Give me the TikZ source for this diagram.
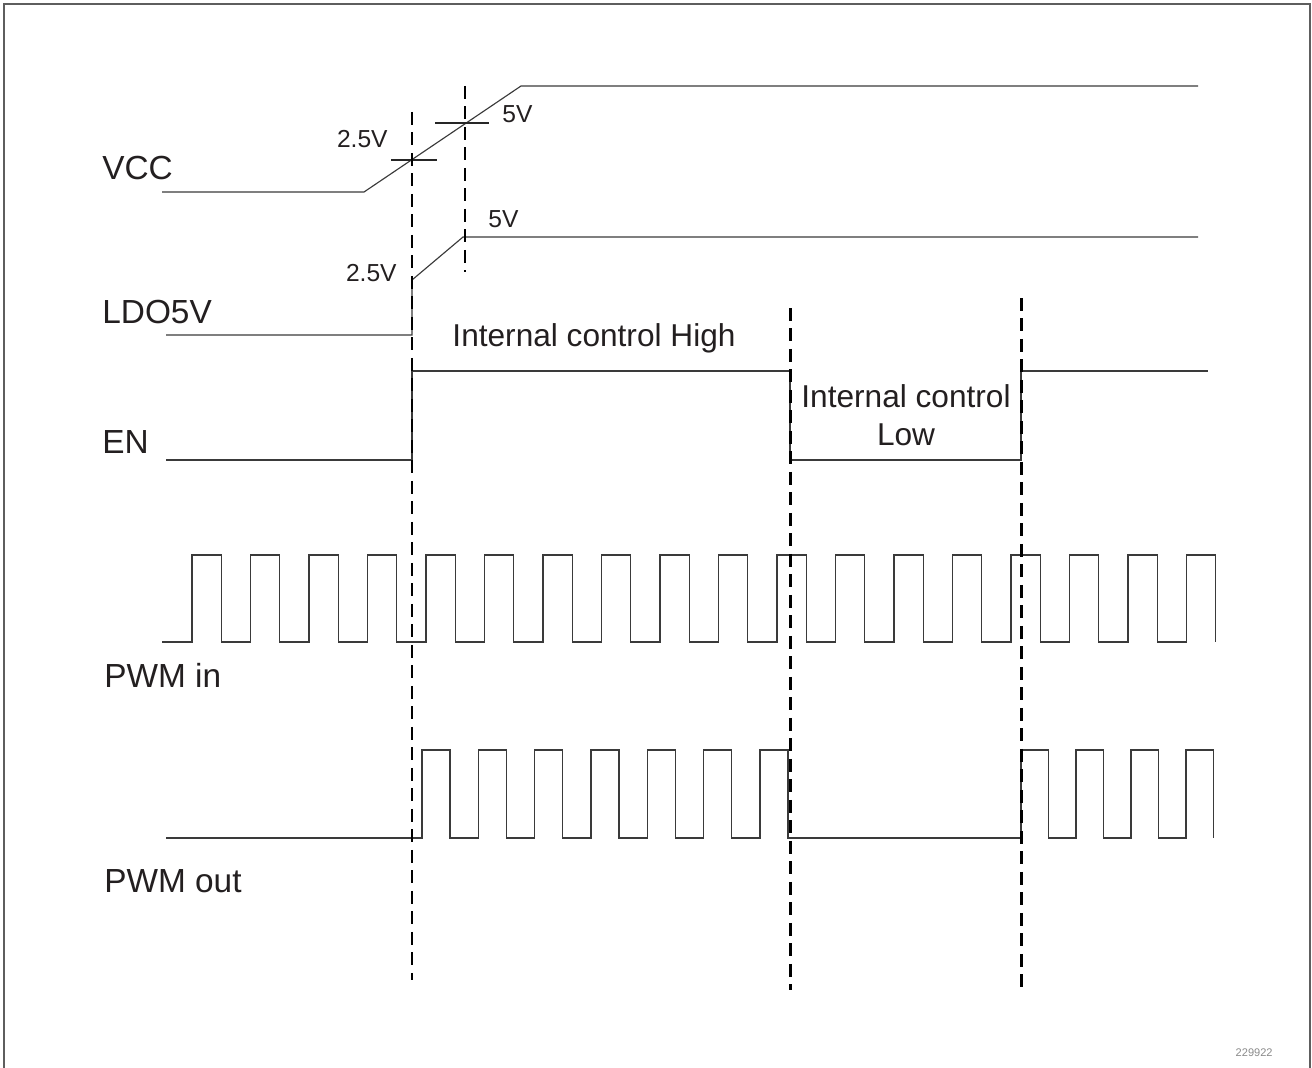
\documentclass[tikz,border=0pt]{standalone}
\usepackage{fontspec}
\setmainfont{Liberation Sans}
\usepackage{tikz}
\usetikzlibrary{positioning,calc}
\usepackage{xcolor}
\definecolor{fframe}{HTML}{5E5E5E}
\definecolor{fwave}{HTML}{3A3A3A}
\definecolor{ftext}{HTML}{231F20}
\definecolor{fnum}{HTML}{8A8A8A}
\tikzset{
  wave/.style     = {draw=fwave, line width=0.65pt, line join=miter},
  marker/.style   = {draw=black, line width=1.7pt, dash pattern=on 0.26cm off 0.15cm},
  tickmark/.style = {draw=black!85, line width=1.1pt},
  siglabel/.style = {text=ftext, inner sep=0pt, anchor=base west,
                     font=\fontsize{19}{23}\selectfont},
  note/.style     = {text=ftext, inner sep=0pt, anchor=base, align=center,
                     font=\fontsize{18}{21.6}\selectfont},
  volt/.style     = {text=ftext, inner sep=0pt,
                     font=\fontsize{14}{17}\selectfont},
}

\begin{document}
\begin{tikzpicture}[x=0.02cm,y=-0.02cm]
\useasboundingbox (0,0) rectangle (1312,1068);
% ---- frame ----
\draw[fframe,line width=1.1pt] (4,1068) -- (4,4) -- (1310,4) -- (1310,1068);
% ---- signal names ----
\node[siglabel] (lVCC) at (102,179) {VCC};
\node[siglabel] (lLDO) at (102,323) {LDO5V};
\node[siglabel] (lEN) at (102,453) {EN};
\node[siglabel] (lPWMin) at (104,687) {PWM in};
\node[siglabel] (lPWMout) at (104,892) {PWM out};
% ---- VCC ramp ----
\draw[wave] (162,192) -- (364,192) -- (521,86) -- (1198,86);
\draw[tickmark] (391,160) -- (437,160);
\draw[tickmark] (435,123) -- (489,123);
\node[volt,anchor=base east] (v25a) at (388,148) {2.5V};
\node[volt,anchor=base west] (v5a) at (502,123) {5V};
% ---- LDO5V ----
\draw[wave] (166,335) -- (412,335) -- (412,280) -- (463,237) -- (1198,237);
\node[volt,anchor=base east] (v25b) at (397,281) {2.5V};
\node[volt,anchor=base west] (v5b) at (488,227) {5V};
% ---- EN ----
\draw[wave] (166,460) -- (412,460) -- (412,371) -- (790,371) -- (790,460)
  -- (1021,460) -- (1021,371) -- (1208,371);
\node[note] (enHigh) at (594,346) {Internal control High};
\node[note,anchor=north] (enLow) at (906,384) {Internal control\\Low};
% ---- PWM in ----
\draw[wave] (162,642) \foreach \k in {0,...,17} {
  -- ({192+58.5*\k},642) -- ({192+58.5*\k},555)
  -- ({221.3+58.5*\k},555) -- ({221.3+58.5*\k},642) };
% ---- PWM out ----
\draw[wave] (166,838) \foreach \k in {0,...,6} {
  -- ({422+56.33*\k},838) -- ({422+56.33*\k},750)
  -- ({450+56.33*\k},750) -- ({450+56.33*\k},838) }
  \foreach \k in {0,...,3} {
  -- ({1021+55*\k},838) -- ({1021+55*\k},750)
  -- ({1048.5+55*\k},750) -- ({1048.5+55*\k},838) };
% ---- event markers ----
\draw[marker] (412,112) -- (412,980);
\draw[marker] (465,86) -- (465,272);
\draw[marker] (790,308) -- (790,990);
\draw[marker] (1021,298) -- (1021,990);
% ---- figure number ----
\node[text=fnum,inner sep=0pt,font=\fontsize{6.3}{7}\selectfont,anchor=base east]
  (fignum) at (1273,1056) {229922};
\end{tikzpicture}
\end{document}
